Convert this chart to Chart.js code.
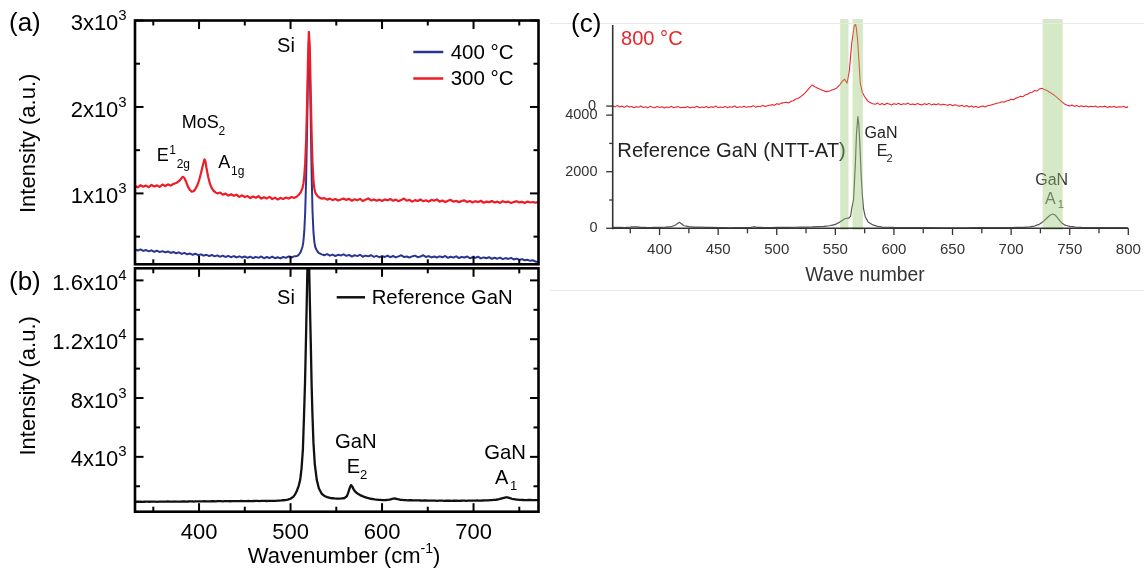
<!DOCTYPE html>
<html><head><meta charset="utf-8">
<script src="https://cdn.jsdelivr.net/npm/chart.js@4.4.1/dist/chart.umd.min.js"></script>
<style>
html,body{margin:0;padding:0;background:#fff;}
body{width:1144px;height:571px;position:relative;overflow:hidden;}
canvas{position:absolute;}
</style></head><body>
<canvas id="ca" width="560" height="275" style="left:0px;top:0px"></canvas>
<canvas id="cb" width="560" height="309" style="left:0px;top:262px"></canvas>
<canvas id="cc" width="594" height="300" style="left:550px;top:0px"></canvas>
<script>
// ---------------- DATA ----------------
// Panel (a): MoS2 spectra, [wavenumber, intensity]
const spec300 = [[330,1088],[333,1070],[336,1095],[339,1078],[342,1090],[345,1072],[348,1098],[351,1080],[354,1093],[357,1075],[360,1102],[363,1085],[366,1105],[369,1090],[372,1110],[375,1120],[378,1140],[380,1165],[382,1192],[384,1180],[386,1130],[388,1075],[390,1040],[392,1020],[394,1025],[396,1050],[398,1090],[400,1150],[402,1230],[404,1320],[406,1394],[407,1370],[408,1300],[410,1190],[412,1110],[414,1060],[416,1030],[418,1012],[420,1000],[423,1010],[426,985],[429,998],[432,975],[435,990],[438,972],[441,985],[444,960],[447,978],[450,958],[453,970],[456,945],[459,965],[462,950],[465,968],[468,940],[471,955],[474,942],[477,960],[480,935],[483,950],[486,930],[489,948],[492,936],[495,952],[498,940],[501,958],[504,948],[507,965],[509,985],[511,1010],[513,1060],[514,1110],[515,1200],[516,1350],[517,1600],[518,2000],[519,2500],[520,2869],[521,2700],[522,2200],[523,1700],[524,1350],[525,1150],[526,1060],[527,1010],[529,975],[531,955],[534,940],[537,945],[540,928],[543,940],[546,922],[549,935],[552,918],[555,930],[558,940],[561,925],[564,938],[567,915],[570,932],[573,920],[576,936],[579,912],[582,928],[585,942],[588,918],[591,930],[594,915],[597,928],[600,912],[603,930],[606,920],[609,935],[612,915],[615,928],[618,910],[621,925],[624,940],[627,915],[630,925],[633,905],[636,922],[639,912],[642,930],[645,910],[648,920],[651,905],[654,925],[657,915],[660,930],[663,905],[666,918],[669,900],[672,915],[675,925],[678,905],[681,915],[684,898],[687,912],[690,920],[693,900],[696,912],[699,895],[702,910],[705,900],[708,915],[711,892],[714,905],[717,898],[720,912],[723,895],[726,905],[729,890],[732,910],[735,898],[738,905],[741,888],[744,900],[747,910],[750,895],[753,902],[756,890],[759,905],[762,895],[765,900],[768,892],[771,903]];
const spec400 = [[330,351],[333,340],[336,352],[339,335],[342,345],[345,330],[348,342],[351,325],[354,338],[357,322],[360,332],[363,318],[366,328],[369,312],[372,322],[375,308],[378,318],[381,300],[384,312],[387,296],[390,305],[393,290],[396,302],[399,285],[402,295],[405,280],[408,290],[411,275],[414,288],[417,272],[420,283],[423,268],[426,280],[429,265],[432,278],[435,262],[438,275],[441,260],[444,272],[447,258],[450,270],[453,255],[456,268],[459,252],[462,266],[465,255],[468,270],[471,250],[474,265],[477,252],[480,268],[483,250],[486,262],[489,248],[492,265],[495,255],[498,270],[501,258],[504,272],[507,275],[509,290],[511,320],[513,380],[514,440],[515,560],[516,780],[517,1150],[518,1700],[519,2300],[520,2750],[521,2500],[522,1900],[523,1250],[524,800],[525,560],[526,440],[527,380],[529,335],[531,310],[534,295],[537,285],[540,298],[543,280],[546,292],[549,276],[552,290],[555,282],[558,295],[561,278],[564,288],[567,270],[570,285],[573,275],[576,290],[579,268],[582,280],[585,272],[588,286],[591,266],[594,278],[597,262],[600,275],[603,265],[606,280],[609,262],[612,276],[615,260],[618,272],[621,284],[624,264],[627,270],[630,258],[633,272],[636,280],[639,262],[642,270],[645,285],[648,264],[651,275],[654,260],[657,270],[660,258],[663,272],[666,262],[669,276],[672,255],[675,268],[678,258],[681,272],[684,252],[687,266],[690,258],[693,270],[696,250],[699,262],[702,255],[705,268],[708,248],[711,260],[714,250],[717,262],[720,244],[723,256],[726,245],[729,258],[732,240],[735,252],[738,242],[741,255],[744,236],[747,246],[750,232],[753,240],[756,226],[759,232],[762,220],[765,226],[768,210],[771,207]];
// Panel (b): reference GaN
const specGaN = [[330,944],[334,950],[338,940],[342,955],[346,948],[350,960],[354,945],[358,958],[362,950],[366,965],[370,955],[374,962],[378,950],[382,968],[386,958],[390,972],[394,962],[398,975],[402,968],[406,980],[410,970],[414,985],[418,975],[422,990],[426,978],[430,988],[434,980],[438,995],[442,985],[446,998],[450,988],[454,1000],[458,990],[462,1005],[466,995],[470,1008],[474,998],[478,1010],[482,1005],[486,1020],[490,1035],[494,1060],[497,1090],[500,1150],[503,1280],[505,1450],[507,1700],[509,2050],[510.5,2420],[512,3200],[513.5,4500],[514.8,6940],[515.8,9000],[516.7,11500],[517.7,14500],[518.5,17000],[519.4,18600],[520.3,17000],[521.2,14300],[522.2,11500],[523,9000],[523.9,6940],[525,5000],[526.5,3500],[528.7,2420],[531,1850],[534,1500],[537,1340],[540,1260],[544,1200],[548,1170],[552,1160],[556,1170],[559,1200],[561.5,1320],[563,1550],[564.5,1850],[566,2078],[567.5,1980],[569,1780],[571,1620],[573,1510],[576,1400],[580,1290],[584,1210],[588,1150],[592,1110],[596,1080],[600,1060],[604,1065],[608,1090],[611,1140],[614,1175],[617,1120],[620,1080],[624,1060],[628,1045],[632,1055],[636,1035],[640,1040],[644,1025],[648,1035],[652,1018],[656,1028],[660,1012],[664,1025],[668,1010],[672,1020],[676,1008],[680,1018],[684,1010],[688,1022],[692,1012],[696,1025],[700,1020],[704,1030],[708,1025],[712,1040],[716,1045],[720,1060],[724,1080],[728,1120],[732,1190],[735,1240],[737,1243],[739,1210],[742,1150],[746,1100],[750,1075],[754,1065],[758,1060],[762,1068],[766,1058],[771,1062]];
// Panel (c): 800 °C (offset trace) and reference GaN (NTT-AT)
const spec800 = [[360,4322],[362,4295],[364,4340],[366,4285],[368,4318],[370,4272],[372,4330],[374,4290],[376,4305],[378,4262],[380,4300],[382,4275],[384,4320],[386,4268],[388,4295],[390,4255],[392,4312],[394,4280],[396,4262],[398,4305],[400,4270],[402,4298],[404,4252],[406,4290],[408,4268],[410,4310],[412,4260],[414,4285],[416,4300],[418,4258],[420,4280],[422,4265],[424,4302],[426,4255],[428,4290],[430,4272],[432,4315],[434,4262],[436,4288],[438,4270],[440,4305],[442,4258],[444,4292],[446,4275],[448,4320],[450,4265],[452,4290],[454,4272],[456,4305],[458,4262],[460,4298],[462,4280],[464,4325],[466,4270],[468,4292],[470,4280],[472,4315],[474,4275],[476,4300],[478,4290],[480,4335],[482,4282],[484,4310],[486,4298],[488,4345],[490,4305],[492,4330],[494,4350],[496,4370],[498,4345],[500,4405],[502,4380],[504,4425],[506,4440],[508,4455],[510,4430],[512,4485],[514,4510],[516,4560],[518,4590],[520,4640],[522,4700],[524,4780],[527,4920],[530,5064],[533,4990],[536,4930],[539,4880],[542,4830],[545,4850],[548,4900],[551,4950],[554,5080],[556,5200],[558,5266],[560,5130],[562,5594],[564,6538],[566,7124],[567.2,7220],[568,7050],[569,6655],[570,6000],[571.3,5124],[573,4800],[575,4650],[578,4480],[580,4440],[582,4400],[584,4385],[586,4425],[588,4370],[590,4410],[592,4365],[594,4420],[596,4390],[598,4360],[600,4405],[602,4375],[604,4420],[606,4368],[608,4400],[610,4382],[612,4425],[614,4370],[616,4395],[618,4365],[620,4412],[622,4380],[624,4360],[626,4402],[628,4375],[630,4415],[632,4362],[634,4390],[636,4370],[638,4405],[640,4355],[642,4385],[644,4365],[646,4345],[648,4380],[650,4330],[652,4368],[654,4340],[656,4315],[658,4350],[660,4300],[662,4338],[664,4290],[666,4325],[668,4280],[670,4310],[672,4272],[674,4300],[676,4325],[678,4290],[680,4330],[682,4350],[684,4370],[686,4395],[688,4420],[690,4440],[692,4470],[694,4455],[696,4500],[698,4520],[700,4560],[702,4540],[704,4600],[706,4620],[708,4670],[710,4650],[712,4710],[714,4740],[716,4790],[718,4810],[720,4870],[722,4850],[724,4920],[726,4947],[728,4910],[731,4860],[734,4780],[737,4700],[740,4594],[743,4480],[746,4382],[748,4350],[750,4322],[752,4355],[754,4310],[756,4340],[758,4295],[760,4330],[762,4300],[764,4325],[766,4285],[768,4315],[770,4295],[772,4320],[774,4280],[776,4305],[778,4290],[780,4318],[782,4272],[784,4300],[786,4285],[788,4310],[790,4270],[792,4298],[794,4285],[796,4312],[798,4265],[800,4300]];
const specNTT = [[360,30],[365,35],[370,25],[375,40],[378,55],[381,50],[384,35],[390,25],[395,30],[400,35],[405,40],[410,60],[413,100],[415,160],[417,212],[419,150],[421,90],[425,60],[430,45],[440,35],[450,25],[460,20],[470,25],[478,30],[481,60],[483,35],[490,25],[500,30],[510,35],[520,40],[530,50],[540,70],[545,90],[550,140],[553,200],[556,280],[558,340],[560,353],[561.5,360],[563,420],[564,700],[565.5,1000],[567,2177],[568,3300],[569.2,3944],[570,3700],[571,2900],[572,1900],[573,1200],[574,700],[575.5,410],[578,220],[582,120],[586,70],[590,45],[600,30],[620,25],[640,20],[660,20],[680,22],[700,25],[710,35],[716,50],[720,80],[724,140],[728,260],[731,380],[733.5,470],[735.5,505],[737.5,470],[740,350],[743,200],[746,110],[750,70],[755,45],[760,30],[770,25],[780,22],[800,20]];
const bandsC = [[554.1,561.2],[564.7,573.5],[726.9,744]];

// axes / ticks
const abXRange = [330, 771];
const aYRange = [180, 3000];
const bYRange = [270, 16822];
const cXRange = [360, 800];
const cYRange = [0, 7397];
const abXMajor = [400,500,600,700];
const abXMinor = [350,450,550,650,750];
const aYMajor = [1000,2000,3000];
const aYMinor = [500,1500,2500];
const aYLabels = [['1x10','3'],['2x10','3'],['3x10','3']];
const bYMajor = [4000,8000,12000,16000];
const bYMinor = [2000,6000,10000,14000];
const bYLabels = [['4x10','3'],['8x10','3'],['1.2x10','4'],['1.6x10','4']];
const cXMajor = [400,450,500,550,600,650,700,750,800];
const cXMinor = [375,425,475,525,575,625,675,725,775];
const cYMajor = [0,2000,4000];
const cYMinor = [1000,3000];
const cYRedZero = 4320;

const F = '"Liberation Sans", Arial, Helvetica, sans-serif';

// ---------------- helpers ----------------
function T(ctx, s, x, y, size, color, align, base){
  ctx.font = size + 'px ' + F; ctx.fillStyle = color || '#000';
  ctx.textAlign = align || 'left'; ctx.textBaseline = base || 'middle';
  ctx.fillText(s, x, y);
}
function W(ctx, s, size){ ctx.font = size + 'px ' + F; return ctx.measureText(s).width; }
function seg(ctx, x1, y1, x2, y2){ ctx.beginPath(); ctx.moveTo(x1,y1); ctx.lineTo(x2,y2); ctx.stroke(); }
function pts(arr){ return arr.map(p => ({x:p[0], y:p[1]})); }

function makeChart(id, off, size, area, xr, yr, datasets, hooks){
  const [ox, oy] = off, [Wc, Hc] = size;
  const plugin = {
    id: 'draw_' + id,
    beforeDatasetsDraw(chart){ if(hooks.before){ const c=chart.ctx; c.save(); c.translate(-ox,-oy); hooks.before(chart,c,ox,oy); c.restore(); } },
    afterDatasetsDraw(chart){ if(hooks.afterData){ const c=chart.ctx; c.save(); c.translate(-ox,-oy); hooks.afterData(chart,c,ox,oy); c.restore(); } },
    afterDraw(chart){ if(hooks.after){ const c=chart.ctx; c.save(); c.translate(-ox,-oy); hooks.after(chart,c,ox,oy); c.restore(); } }
  };
  return new Chart(document.getElementById(id), {
    type: 'line',
    data: { datasets },
    options: {
      responsive: false, animation: false, devicePixelRatio: 1,
      layout: { padding: { left: 0, top: area.T - oy, right: Wc - (area.R - ox), bottom: 0 } },
      elements: { point: { radius: 0 }, line: { tension: 0.0001, borderJoinStyle: 'round' } },
      scales: {
        x: { type: 'linear', min: xr[0], max: xr[1], ticks: { display: false }, grid: { display: false, drawTicks: false }, border: { display: false },
             afterFit(s){ s.height = Hc - (area.B - oy); } },
        y: { type: 'linear', min: yr[0], max: yr[1], ticks: { display: false }, grid: { display: false, drawTicks: false }, border: { display: false },
             afterFit(s){ s.width = area.L - ox; } }
      },
      plugins: { legend: { display: false }, tooltip: { enabled: false } }
    },
    plugins: [plugin]
  });
}

function sci(ctx, mant, exp, right, y){
  const sw = W(ctx, exp, 15);
  T(ctx, exp, right, y - 4.5, 15, '#000', 'right');
  T(ctx, mant, right - sw, y + 3.5, 22, '#000', 'right');
}

function frameAB(chart, ctx, ox, oy, yMaj, yMin){
  const a = chart.chartArea, xs = chart.scales.x, ys = chart.scales.y;
  const L=a.left+ox, R=a.right+ox, Tp=a.top+oy, B=a.bottom+oy;
  ctx.strokeStyle = '#000'; ctx.lineWidth = 2.6; ctx.lineCap = 'butt';
  ctx.strokeRect(L, Tp, R-L, B-Tp);
  ctx.lineWidth = 2;
  const tk = (vals, len) => {
    vals.forEach(v => { const x = xs.getPixelForValue(v)+ox; seg(ctx,x,Tp,x,Tp+len); seg(ctx,x,B,x,B-len); });
  };
  const tky = (vals, len) => {
    vals.forEach(v => { const y = ys.getPixelForValue(v)+oy; if (y < Tp-1 || y > B+1) return; seg(ctx,L,y,L+len,y); seg(ctx,R,y,R-len,y); });
  };
  tk(abXMajor, 8.5); tk(abXMinor, 5); tky(yMaj, 8.5); tky(yMin, 5);
  return {L,R,Tp,B,xs,ys};
}

// ---------------- Panel (a) ----------------
makeChart('ca', [0,0], [560,275], {L:135, R:538.5, T:20.5, B:264.3}, abXRange, aYRange, [
  { data: pts(spec300), borderColor: '#ee1c25', borderWidth: 2.2 },
  { data: pts(spec400), borderColor: '#2a3591', borderWidth: 2.0 }
], {
  after(chart, ctx, ox, oy){
    const g = frameAB(chart, ctx, ox, oy, aYMajor, aYMinor);
    aYMajor.forEach((v,i) => sci(ctx, aYLabels[i][0], aYLabels[i][1], 126.7, g.ys.getPixelForValue(v)+oy));
    ctx.save(); ctx.translate(29.3, 143.3); ctx.rotate(-Math.PI/2);
    T(ctx, 'Intensity (a.u.)', 0, 0, 22, '#000', 'center'); ctx.restore();
    T(ctx, '(a)', 9, 24, 26, '#000', 'left');
    T(ctx, 'Si', 286, 46, 20, '#000', 'center');
    // legend
    ctx.lineWidth = 2.5;
    ctx.strokeStyle = '#2a3591'; seg(ctx, 413.3, 52, 443.3, 52);
    ctx.strokeStyle = '#ee1c25'; seg(ctx, 413.3, 78.5, 443.3, 78.5);
    T(ctx, '400 °C', 450.7, 53, 20.5, '#000');
    T(ctx, '300 °C', 450.7, 79, 20.5, '#000');
    // MoS2 annotations
    T(ctx, 'MoS', 181.7, 123.3, 18, '#000'); T(ctx, '2', 218.5, 131.5, 12, '#000');
    T(ctx, 'E', 156.7, 156, 18, '#000'); T(ctx, '1', 169.3, 150.5, 12, '#000'); T(ctx, '2g', 176.7, 165, 12, '#000');
    T(ctx, 'A', 218.3, 163.3, 18, '#000'); T(ctx, '1g', 231, 172, 12, '#000');
  }
});

// ---------------- Panel (b) ----------------
makeChart('cb', [0,262], [560,309], {L:135, R:538.5, T:268.3, B:511.7}, abXRange, bYRange, [
  { data: pts(specGaN), borderColor: '#111', borderWidth: 2.3 }
], {
  after(chart, ctx, ox, oy){
    const g = frameAB(chart, ctx, ox, oy, bYMajor, bYMinor);
    bYMajor.forEach((v,i) => sci(ctx, bYLabels[i][0], bYLabels[i][1], 126.7, g.ys.getPixelForValue(v)+oy));
    abXMajor.forEach(v => T(ctx, String(v), g.xs.getPixelForValue(v)+ox, 533.3, 22, '#000', 'center'));
    ctx.save(); ctx.translate(29.3, 385.8); ctx.rotate(-Math.PI/2);
    T(ctx, 'Intensity (a.u.)', 0, 0, 22, '#000', 'center'); ctx.restore();
    T(ctx, '(b)', 9, 282.5, 26, '#000', 'left');
    T(ctx, 'Si', 286, 298.3, 20, '#000', 'center');
    ctx.strokeStyle = '#111'; ctx.lineWidth = 2.5; seg(ctx, 336.7, 297.3, 365, 297.3);
    T(ctx, 'Reference GaN', 371.7, 298, 20.3, '#000');
    T(ctx, 'GaN', 355.8, 442.3, 20.3, '#000', 'center');
    T(ctx, 'E', 346.7, 467.7, 20, '#000'); T(ctx, '2', 360, 475, 13, '#000');
    T(ctx, 'GaN', 505, 453.3, 20.3, '#000', 'center');
    T(ctx, 'A', 495, 478.3, 20, '#000'); T(ctx, '1', 510, 486.7, 13, '#000');
    // x title with superscript
    const p1 = 'Wavenumber (cm', p2 = '-1', p3 = ')';
    const w1 = W(ctx,p1,22), w2 = W(ctx,p2,14), w3 = W(ctx,p3,22);
    let x0 = 344 - (w1+w2+w3)/2;
    T(ctx, p1, x0, 556.7, 22, '#000'); T(ctx, p2, x0+w1, 549.5, 14, '#000'); T(ctx, p3, x0+w1+w2, 556.7, 22, '#000');
  }
});

// ---------------- Panel (c) ----------------
makeChart('cc', [550,0], [594,300], {L:612.7, R:1128.3, T:19, B:228.3}, cXRange, cYRange, [
  { data: pts(spec800), borderColor: '#e9262e', borderWidth: 1.1 },
  { data: pts(specNTT), borderColor: '#555', borderWidth: 1.2 }
], {
  before(chart, ctx){
    T(ctx, 'Reference GaN (NTT-AT)', 617.3, 151.7, 20.2, '#222');
    T(ctx, 'GaN', 881, 133.3, 16, '#222', 'center');
    T(ctx, 'E', 876.7, 151.7, 16, '#222'); T(ctx, '2', 886.5, 159.3, 11, '#222');
    T(ctx, 'GaN', 1051.7, 181, 16, '#333', 'center');
    T(ctx, 'A', 1045, 200, 16, '#555'); T(ctx, '1', 1057.7, 205, 11, '#555');
  },
  afterData(chart, ctx, ox, oy){
    const a = chart.chartArea, xs = chart.scales.x;
    ctx.fillStyle = 'rgba(152,200,112,0.4)';
    bandsC.forEach(b => {
      const x1 = xs.getPixelForValue(b[0])+ox, x2 = xs.getPixelForValue(b[1])+ox;
      ctx.fillRect(x1, a.top+oy, x2-x1, a.bottom - a.top + 1.7);
    });
  },
  after(chart, ctx, ox, oy){
    const a = chart.chartArea, xs = chart.scales.x, ys = chart.scales.y;
    const L=a.left+ox, R=a.right+ox, B=a.bottom+oy;
    // light frame lines
    ctx.strokeStyle = '#e8e8e8'; ctx.lineWidth = 1;
    seg(ctx, 550, 23.5, 1144, 23.5); seg(ctx, 550, 290.5, 1144, 290.5);
    ctx.strokeStyle = '#333'; ctx.lineWidth = 1.6;
    seg(ctx, L, 25, L, B+1); seg(ctx, L-0.8, B, R, B);
    ctx.lineWidth = 1.3;
    cXMajor.forEach(v => { const x = xs.getPixelForValue(v)+ox; seg(ctx, x, B, x, B+6.7); });
    cXMinor.forEach(v => { const x = xs.getPixelForValue(v)+ox; seg(ctx, x, B, x, B+5); });
    cYMajor.concat([cYRedZero]).forEach(v => { const y = ys.getPixelForValue(v)+oy; seg(ctx, L-6.5, y, L, y); });
    cYMinor.forEach(v => { const y = ys.getPixelForValue(v)+oy; seg(ctx, L-3.5, y, L, y); });
    cXMajor.forEach(v => T(ctx, String(v), xs.getPixelForValue(v)+ox, 250, 15, '#333', 'center'));
    cYMajor.forEach(v => T(ctx, String(v), 597.5, ys.getPixelForValue(v)+oy, 14.5, '#333', 'right'));
    T(ctx, '0', 596, ys.getPixelForValue(cYRedZero)+oy, 14.5, '#333', 'right');
    T(ctx, 'Wave number', 865, 275.7, 19.3, '#333', 'center');
    T(ctx, '(c)', 571, 25, 26, '#000', 'left');
    T(ctx, '800 °C', 621, 39.3, 20.1, '#e9262e');
  }
});
</script>
</body></html>
